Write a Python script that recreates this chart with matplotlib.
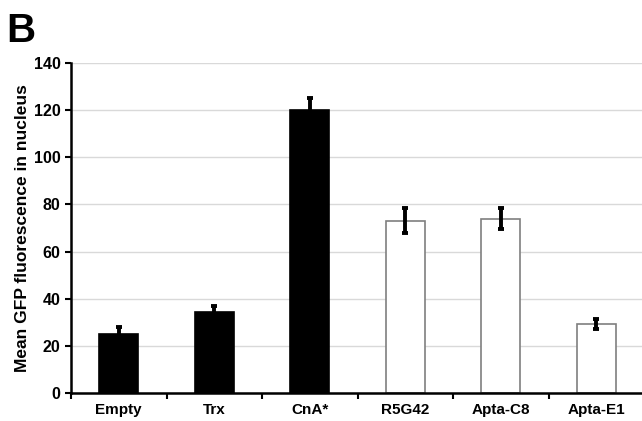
import matplotlib
matplotlib.use("Agg")
import matplotlib.pyplot as plt
import numpy as np

categories = ["Empty", "Trx", "CnA*", "R5G42", "Apta-C8", "Apta-E1"]
values = [25, 34.5, 120, 73, 74, 29.3]
errors = [2.8, 2.2, 5.2, 5.3, 4.5, 2.3]
filled = [True, True, True, False, False, False]
y_ticks = [0, 20, 40, 60, 80, 100, 120, 140]

plt.rcParams["font.family"] = ["Liberation Sans", "DejaVu Sans"]
plt.rcParams["font.weight"] = "bold"

W, H = 642, 421
fig = plt.figure(figsize=(W / 100, H / 100), dpi=100)
ax = fig.add_axes([71 / W, (H - 393) / H, (644 - 71) / W, 330 / H])

x = np.arange(len(categories))
faces = ["black" if f else "white" for f in filled]
edges = ["black" if f else "#7f7f7f" for f in filled]
ax.bar(x, values, width=0.41, color=faces, edgecolor=edges, linewidth=1.2, zorder=2)
ax.errorbar(x, values, yerr=errors, fmt="none", ecolor="black",
            elinewidth=2.8, capsize=2, capthick=2.8, zorder=3)

ax.set_xlim(-0.5, len(categories) - 0.5)
ax.set_ylim(0, 140)
ax.set_yticks(y_ticks)
ax.yaxis.grid(True, color="#d9d9d9", linewidth=1)
ax.set_axisbelow(True)

ax.set_xticks(x)
ax.set_xticklabels(categories, fontsize=11, fontweight="bold")
ax.tick_params(axis="x", length=0, pad=7)
ax.set_xticks(np.arange(len(categories) + 1) - 0.5, minor=True)
ax.tick_params(axis="x", which="minor", length=4, width=1.5, direction="out")
ax.tick_params(axis="y", length=4, width=1.5, labelsize=11.5)
for lab in ax.get_yticklabels():
    lab.set_fontweight("bold")

for s in ["top", "right"]:
    ax.spines[s].set_visible(False)
ax.spines["left"].set_linewidth(1.8)
ax.spines["bottom"].set_linewidth(1.8)

ax.set_ylabel("Mean GFP fluorescence in nucleus", fontsize=12.5, fontweight="bold", labelpad=3)
fig.text(6 / W, 1 - 42 / H, "B", fontsize=29, fontweight="bold")

fig.savefig("out.png", dpi=100)
